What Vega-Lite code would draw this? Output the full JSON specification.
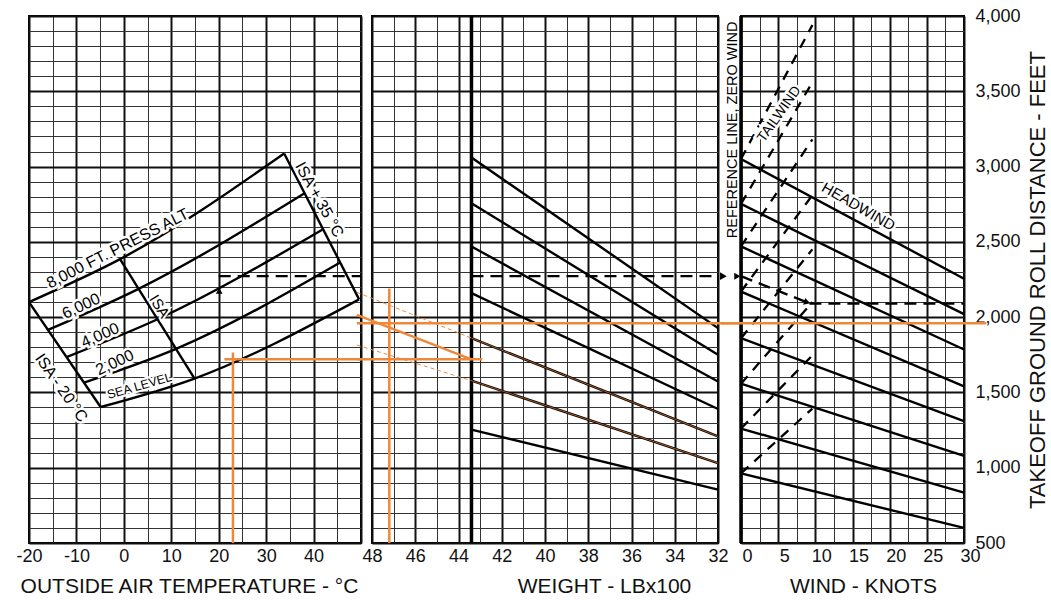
{
"$schema": "https://vega.github.io/schema/vega-lite/v6.json",
"background": "white",
"padding": {"left": 14, "top": 6, "right": 4, "bottom": 4},
"bounds": "flush",
"spacing": 11,
"config": {
  "view": {"stroke": "#000", "strokeWidth": 2},
  "font": "Liberation Sans",
  "axis": {"ticks": false, "domain": false, "labelFlush": false, "labelOverlap": false, "labelFont": "Liberation Sans", "labelFontSize": 18, "labelColor": "#111", "titleFont": "Liberation Sans", "titleFontSize": 21, "titleFontWeight": "normal", "titleColor": "#111", "gridOpacity": 1}
},
"datasets": {
  "oat_curves": [
    {"g": "a8", "x": -20, "y": 2100}, {"g": "a8", "x": -0.8, "y": 2385}, {"g": "a8", "x": 33.8, "y": 3087},
    {"g": "a6", "x": -16.0, "y": 1915}, {"g": "a6", "x": 3.1, "y": 2188}, {"g": "a6", "x": 38.1, "y": 2823},
    {"g": "a4", "x": -12.1, "y": 1735}, {"g": "a4", "x": 7.1, "y": 1986}, {"g": "a4", "x": 42.0, "y": 2584},
    {"g": "a2", "x": -8.4, "y": 1565}, {"g": "a2", "x": 11.0, "y": 1789}, {"g": "a2", "x": 45.6, "y": 2363},
    {"g": "a0", "x": -4.9, "y": 1403}, {"g": "a0", "x": 14.9, "y": 1592}, {"g": "a0", "x": 49.6, "y": 2118}
  ],
  "oat_bounds": [
    {"g": "m20", "x": -20, "y": 2100}, {"g": "m20", "x": -4.9, "y": 1403},
    {"g": "isa", "x": -0.8, "y": 2385}, {"g": "isa", "x": 14.9, "y": 1592},
    {"g": "p35", "x": 33.8, "y": 3087}, {"g": "p35", "x": 49.6, "y": 2118}
  ],
  "oat_dash": [{"x": 20, "y": 2272}, {"x": 50, "y": 2272}],
  "oat_orange": [
    {"g": "v", "x": 23, "y": 500}, {"g": "v", "x": 23, "y": 1765},
    {"g": "h", "x": 21.2, "y": 1720}, {"g": "h", "x": 50, "y": 1720}
  ],
  "wt_lines": [
    {"g": "w1", "x": 43.4, "y": 3060}, {"g": "w1", "x": 32, "y": 1927},
    {"g": "w2", "x": 43.4, "y": 2757}, {"g": "w2", "x": 32, "y": 1750},
    {"g": "w3", "x": 43.4, "y": 2469}, {"g": "w3", "x": 32, "y": 1573},
    {"g": "w4", "x": 43.4, "y": 2159}, {"g": "w4", "x": 32, "y": 1390},
    {"g": "w5", "x": 43.4, "y": 1861}, {"g": "w5", "x": 32, "y": 1208},
    {"g": "w6", "x": 43.4, "y": 1578}, {"g": "w6", "x": 32, "y": 1031},
    {"g": "w7", "x": 43.4, "y": 1253}, {"g": "w7", "x": 32, "y": 854}
  ],
  "wt_ref": [{"x": 43.4, "y": 500}, {"x": 43.4, "y": 4000}],
  "wt_dash": [{"x": 43.4, "y": 2272}, {"x": 32, "y": 2272}],
  "wt_orange": [
    {"g": "h1960", "x": 48.7, "y": 1960}, {"g": "h1960", "x": 31, "y": 1960},
    {"g": "h1720", "x": 48.7, "y": 1720}, {"g": "h1720", "x": 42.9, "y": 1720},
    {"g": "diag", "x": 48.7, "y": 2015}, {"g": "diag", "x": 43.4, "y": 1720},
    {"g": "v", "x": 47.2, "y": 500}, {"g": "v", "x": 47.2, "y": 2190}
  ],
  "wt_orange_ext": [
    {"g": "e5", "x": 48.7, "y": 2165}, {"g": "e5", "x": 43.4, "y": 1861},
    {"g": "e6", "x": 48.7, "y": 1815}, {"g": "e6", "x": 43.4, "y": 1578}
  ],
  "wt_orange_over": [
    {"g": "o5", "x": 43.4, "y": 1861}, {"g": "o5", "x": 32, "y": 1208},
    {"g": "o6", "x": 43.4, "y": 1578}, {"g": "o6", "x": 32, "y": 1031}
  ],
  "wind_head": [
    {"g": "h1", "x": 0, "y": 3050}, {"g": "h1", "x": 30, "y": 2255},
    {"g": "h2", "x": 0, "y": 2752}, {"g": "h2", "x": 30, "y": 2020},
    {"g": "h3", "x": 0, "y": 2470}, {"g": "h3", "x": 30, "y": 1785},
    {"g": "h4", "x": 0, "y": 2170}, {"g": "h4", "x": 30, "y": 1540},
    {"g": "h5", "x": 0, "y": 1860}, {"g": "h5", "x": 30, "y": 1310},
    {"g": "h6", "x": 0, "y": 1558}, {"g": "h6", "x": 30, "y": 1078},
    {"g": "h7", "x": 0, "y": 1260}, {"g": "h7", "x": 30, "y": 835},
    {"g": "h8", "x": 0, "y": 962}, {"g": "h8", "x": 30, "y": 600}
  ],
  "wind_tail": [
    {"g": "t1", "x": 0, "y": 3050}, {"g": "t1", "x": 9.6, "y": 3940},
    {"g": "t2", "x": 0, "y": 2752}, {"g": "t2", "x": 9.6, "y": 3560},
    {"g": "t3", "x": 0, "y": 2470}, {"g": "t3", "x": 9.6, "y": 3180},
    {"g": "t4", "x": 0, "y": 2170}, {"g": "t4", "x": 9.6, "y": 2810},
    {"g": "t5", "x": 0, "y": 1860}, {"g": "t5", "x": 9.6, "y": 2450},
    {"g": "t6", "x": 0, "y": 1558}, {"g": "t6", "x": 9.6, "y": 2100},
    {"g": "t7", "x": 0, "y": 1260}, {"g": "t7", "x": 9.6, "y": 1746},
    {"g": "t8", "x": 0, "y": 962}, {"g": "t8", "x": 9.6, "y": 1393}
  ],
  "wind_ref": [{"x": 0, "y": 500}, {"x": 0, "y": 4000}],
  "wind_path": [
    {"g": "d", "x": 0, "y": 2272}, {"g": "d", "x": 8.8, "y": 2100},
    {"g": "h", "x": 9.2, "y": 2090}, {"g": "h", "x": 30, "y": 2090}
  ],
  "wind_orange": [{"x": -2.7, "y": 1960}, {"x": 33, "y": 1960}]
},
"hconcat": [
  {
    "width": 332,
    "height": 527,
    "encoding": {
      "x": {"field": "x", "type": "quantitative", "scale": {"domain": [-20, 50], "nice": false, "zero": false},
        "axis": {"values": [-20, -15, -10, -5, 0, 5, 10, 15, 20, 25, 30, 35, 40, 45, 50], "grid": true,
          "gridWidth": {"condition": {"test": "datum.value % 10 === 0", "value": 2}, "value": 1},
          "gridColor": {"condition": {"test": "datum.value % 10 === 0", "value": "#111"}, "value": "#333"},
          "labelExpr": "datum.value % 10 === 0 && datum.value < 50 ? '' + datum.value : ''",
          "labelPadding": 4, "title": "OUTSIDE AIR TEMPERATURE - °C", "titlePadding": 10, "titleX": 160}},
      "y": {"field": "y", "type": "quantitative", "scale": {"domain": [500, 4000], "nice": false, "zero": false},
        "axis": {"values": [500,600,700,800,900,1000,1100,1200,1300,1400,1500,1600,1700,1800,1900,2000,2100,2200,2300,2400,2500,2600,2700,2800,2900,3000,3100,3200,3300,3400,3500,3600,3700,3800,3900,4000],
          "grid": true, "labels": false, "title": null,
          "gridWidth": {"condition": {"test": "datum.value % 500 === 0", "value": 2}, "value": 1},
          "gridColor": {"condition": {"test": "datum.value % 500 === 0", "value": "#111"}, "value": "#333"}}}
    },
    "layer": [
      {"data": {"name": "oat_curves"}, "mark": {"type": "line", "interpolate": "monotone", "color": "#000", "strokeWidth": 2.4}, "encoding": {"detail": {"field": "g"}}},
      {"data": {"name": "oat_bounds"}, "mark": {"type": "line", "color": "#000", "strokeWidth": 2.4}, "encoding": {"detail": {"field": "g"}}},
      {"data": {"name": "oat_dash"}, "mark": {"type": "line", "color": "#000", "strokeWidth": 2.3, "strokeDash": [12, 7]}, "encoding": {}},
      {"data": {"values": [{"x": 20.1, "y": 2175}]}, "mark": {"type": "point", "shape": "triangle-up", "filled": true, "color": "#000", "size": 45, "opacity": 1}},
      {"data": {"name": "oat_orange"}, "mark": {"type": "line", "color": "#f0883a", "strokeWidth": 2.5}, "encoding": {"detail": {"field": "g"}}},
      {"data": {"values": [{"x": -1.3, "y": 2455, "t": "8,000 FT. PRESS ALT"}]}, "layer": [
        {"mark": {"type": "text", "angle": -27, "fontSize": 16, "stroke": "white", "strokeWidth": 5, "color": "white"}, "encoding": {"text": {"field": "t"}}},
        {"mark": {"type": "text", "angle": -27, "fontSize": 16, "color": "#000"}, "encoding": {"text": {"field": "t"}}}]},
      {"data": {"values": [{"x": -9.0, "y": 2073, "t": "6,000"}]}, "layer": [
        {"mark": {"type": "text", "angle": -25, "fontSize": 16, "stroke": "white", "strokeWidth": 5, "color": "white"}, "encoding": {"text": {"field": "t"}}},
        {"mark": {"type": "text", "angle": -25, "fontSize": 16, "color": "#000"}, "encoding": {"text": {"field": "t"}}}]},
      {"data": {"values": [{"x": -5.0, "y": 1879, "t": "4,000"}]}, "layer": [
        {"mark": {"type": "text", "angle": -24, "fontSize": 16, "stroke": "white", "strokeWidth": 5, "color": "white"}, "encoding": {"text": {"field": "t"}}},
        {"mark": {"type": "text", "angle": -24, "fontSize": 16, "color": "#000"}, "encoding": {"text": {"field": "t"}}}]},
      {"data": {"values": [{"x": -1.9, "y": 1698, "t": "2,000"}]}, "layer": [
        {"mark": {"type": "text", "angle": -25, "fontSize": 16, "stroke": "white", "strokeWidth": 5, "color": "white"}, "encoding": {"text": {"field": "t"}}},
        {"mark": {"type": "text", "angle": -25, "fontSize": 16, "color": "#000"}, "encoding": {"text": {"field": "t"}}}]},
      {"data": {"values": [{"x": 3.3, "y": 1543, "t": "SEA LEVEL"}]}, "layer": [
        {"mark": {"type": "text", "angle": -16, "fontSize": 12.5, "stroke": "white", "strokeWidth": 4, "color": "white"}, "encoding": {"text": {"field": "t"}}},
        {"mark": {"type": "text", "angle": -16, "fontSize": 12.5, "color": "#000"}, "encoding": {"text": {"field": "t"}}}]},
      {"data": {"values": [{"x": 7.5, "y": 2071, "t": "ISA"}]}, "layer": [
        {"mark": {"type": "text", "angle": 58, "fontSize": 15, "stroke": "white", "strokeWidth": 4, "color": "white"}, "encoding": {"text": {"field": "t"}}},
        {"mark": {"type": "text", "angle": 58, "fontSize": 15, "color": "#000"}, "encoding": {"text": {"field": "t"}}}]},
      {"data": {"values": [{"x": -13.2, "y": 1531, "t": "ISA - 20 °C"}]}, "layer": [
        {"mark": {"type": "text", "angle": 55, "fontSize": 16, "stroke": "white", "strokeWidth": 5, "color": "white"}, "encoding": {"text": {"field": "t"}}},
        {"mark": {"type": "text", "angle": 55, "fontSize": 16, "color": "#000"}, "encoding": {"text": {"field": "t"}}}]},
      {"data": {"values": [{"x": 41.2, "y": 2779, "t": "ISA + 35 °C"}]}, "layer": [
        {"mark": {"type": "text", "angle": 61, "fontSize": 16, "stroke": "white", "strokeWidth": 5, "color": "white"}, "encoding": {"text": {"field": "t"}}},
        {"mark": {"type": "text", "angle": 61, "fontSize": 16, "color": "#000"}, "encoding": {"text": {"field": "t"}}}]}
    ]
  },
  {
    "width": 346,
    "height": 527,
    "encoding": {
      "x": {"field": "x", "type": "quantitative", "scale": {"domain": [32, 48], "reverse": true, "nice": false, "zero": false},
        "axis": {"values": [32, 33, 34, 35, 36, 37, 38, 39, 40, 41, 42, 43, 44, 45, 46, 47, 48], "grid": true,
          "gridWidth": {"condition": {"test": "datum.value % 2 === 0", "value": 2}, "value": 1},
          "gridColor": {"condition": {"test": "datum.value % 2 === 0", "value": "#111"}, "value": "#333"},
          "labelExpr": "datum.value % 2 === 0 ? '' + datum.value : ''",
          "labelPadding": 4, "title": "WEIGHT - LBx100", "titlePadding": 10, "titleX": 232}},
      "y": {"field": "y", "type": "quantitative", "scale": {"domain": [500, 4000], "nice": false, "zero": false},
        "axis": {"values": [500,600,700,800,900,1000,1100,1200,1300,1400,1500,1600,1700,1800,1900,2000,2100,2200,2300,2400,2500,2600,2700,2800,2900,3000,3100,3200,3300,3400,3500,3600,3700,3800,3900,4000],
          "grid": true, "labels": false, "title": null,
          "gridWidth": {"condition": {"test": "datum.value % 500 === 0", "value": 2}, "value": 1},
          "gridColor": {"condition": {"test": "datum.value % 500 === 0", "value": "#111"}, "value": "#333"}}}
    },
    "layer": [
      {"data": {"name": "wt_ref"}, "mark": {"type": "line", "color": "#000", "strokeWidth": 3.5}, "encoding": {}},
      {"data": {"name": "wt_lines"}, "mark": {"type": "line", "color": "#000", "strokeWidth": 2.4}, "encoding": {"detail": {"field": "g"}}},
      {"data": {"name": "wt_dash"}, "mark": {"type": "line", "color": "#000", "strokeWidth": 2.3, "strokeDash": [12, 7]}, "encoding": {}},
      {"data": {"values": [{"x": 31.75, "y": 2272}]}, "mark": {"type": "point", "shape": "triangle-right", "filled": true, "color": "#000", "size": 60, "opacity": 1}},
      {"data": {"name": "wt_orange_ext"}, "mark": {"type": "line", "color": "#f0883a", "strokeWidth": 1, "strokeDash": [4, 3]}, "encoding": {"detail": {"field": "g"}}},
      {"data": {"name": "wt_orange_over"}, "mark": {"type": "line", "color": "#d0702a", "strokeWidth": 0.8}, "encoding": {"detail": {"field": "g"}}},
      {"data": {"name": "wt_orange"}, "mark": {"type": "line", "color": "#f0883a", "strokeWidth": 2.5}, "encoding": {"detail": {"field": "g"}}}
    ]
  },
  {
    "width": 0.001,
    "height": 527,
    "view": {"stroke": null},
    "data": {"values": []},
    "mark": "point"
  },
  {
    "width": 223,
    "height": 527,
    "encoding": {
      "x": {"field": "x", "type": "quantitative", "scale": {"domain": [0, 30], "nice": false, "zero": false},
        "axis": {"values": [0, 2.5, 5, 7.5, 10, 12.5, 15, 17.5, 20, 22.5, 25, 27.5, 30], "grid": true,
          "gridWidth": {"condition": {"test": "datum.value % 5 === 0", "value": 2}, "value": 1},
          "gridColor": {"condition": {"test": "datum.value % 5 === 0", "value": "#111"}, "value": "#333"},
          "labelExpr": "datum.value % 5 === 0 ? '' + datum.value : ''",
          "labelPadding": 4, "labelOffset": 6, "title": "WIND - KNOTS", "titlePadding": 10, "titleX": 122}},
      "y": {"field": "y", "type": "quantitative", "scale": {"domain": [500, 4000], "nice": false, "zero": false},
        "axis": {"orient": "right", "values": [500,600,700,800,900,1000,1100,1200,1300,1400,1500,1600,1700,1800,1900,2000,2100,2200,2300,2400,2500,2600,2700,2800,2900,3000,3100,3200,3300,3400,3500,3600,3700,3800,3900,4000],
          "grid": true, "labelExpr": "datum.value % 500 === 0 ? format(datum.value, ',') : ''", "labelPadding": 11,
          "title": "TAKEOFF GROUND ROLL DISTANCE - FEET", "titlePadding": 7, "titleAngle": 270, "titleBaseline": "top", "titleFontSize": 22,
          "gridWidth": {"condition": {"test": "datum.value % 500 === 0", "value": 2}, "value": 1},
          "gridColor": {"condition": {"test": "datum.value % 500 === 0", "value": "#111"}, "value": "#333"}}}
    },
    "layer": [
      {"data": {"name": "wind_ref"}, "mark": {"type": "line", "color": "#000", "strokeWidth": 3.5}, "encoding": {}},
      {"data": {"name": "wind_head"}, "mark": {"type": "line", "color": "#000", "strokeWidth": 2.4}, "encoding": {"detail": {"field": "g"}}},
      {"data": {"name": "wind_tail"}, "mark": {"type": "line", "color": "#000", "strokeWidth": 2.3, "strokeDash": [10, 8]}, "encoding": {"detail": {"field": "g"}}},
      {"data": {"name": "wind_path"}, "mark": {"type": "line", "color": "#000", "strokeWidth": 2.3, "strokeDash": [12, 7]}, "encoding": {"detail": {"field": "g"}}},
      {"data": {"values": [{"x": 8.9, "y": 2098}]}, "mark": {"type": "point", "shape": "triangle-right", "filled": true, "color": "#000", "size": 50, "opacity": 1, "angle": 17}},
      {"data": {"values": [{"x": -0.5, "y": 2272}]}, "mark": {"type": "point", "shape": "triangle-right", "filled": true, "color": "#000", "size": 50, "opacity": 1}},
      {"data": {"name": "wind_orange"}, "mark": {"type": "line", "color": "#f0883a", "strokeWidth": 2.5}, "encoding": {}},
      {"data": {"values": [{"x": 5.16, "y": 3348, "t": "TAILWIND"}]}, "layer": [
        {"mark": {"type": "text", "angle": -55, "fontSize": 14, "stroke": "white", "strokeWidth": 5, "color": "white"}, "encoding": {"text": {"field": "t"}}},
        {"mark": {"type": "text", "angle": -55, "fontSize": 14, "color": "#000"}, "encoding": {"text": {"field": "t"}}}]},
      {"data": {"values": [{"x": 15.8, "y": 2735, "t": "HEADWIND"}]}, "layer": [
        {"mark": {"type": "text", "angle": 30, "fontSize": 15, "stroke": "white", "strokeWidth": 5, "color": "white"}, "encoding": {"text": {"field": "t"}}},
        {"mark": {"type": "text", "angle": 30, "fontSize": 15, "color": "#000"}, "encoding": {"text": {"field": "t"}}}]},
      {"data": {"values": [{"x": -1.12, "y": 3244, "t": "REFERENCE LINE, ZERO WIND"}]}, "mark": {"type": "text", "angle": -90, "fontSize": 14.5, "color": "#000"}, "encoding": {"text": {"field": "t"}}}
    ]
  }
]
}
